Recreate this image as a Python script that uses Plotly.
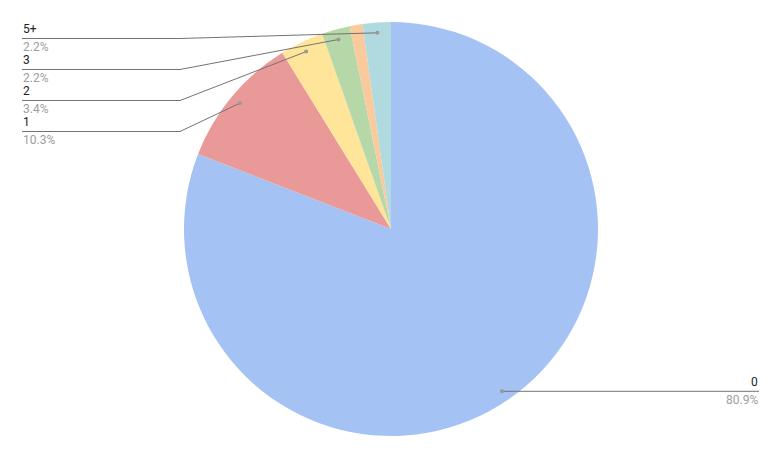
import math
import plotly.graph_objects as go

categories = ["0", "1", "2", "3", "4", "5+"]
values = [80.9, 10.3, 3.4, 2.2, 1.0, 2.2]
colors = ["#a4c2f4", "#ea9999", "#ffe599", "#b6d7a8", "#f9cb9c", "#b0dadf"]

W, H = 782, 459
MT, MB = 22, 23
PH = H - MT - MB
R = PH / 2.0
CX, CY = W / 2.0, MT + R

def px2paper(x, y):
    return x / W, (H - MB - y) / PH

fig = go.Figure(go.Pie(
    labels=categories, values=values, sort=False, direction="clockwise",
    rotation=0, marker=dict(colors=colors, line=dict(width=0)),
    textinfo="none", hoverinfo="label+percent", showlegend=False,
))

total = sum(values)
cum = 0.0
mids = {}
for c, v in zip(categories, values):
    a = (cum + v / 2) / total * 2 * math.pi
    mids[c] = (CX + 0.95 * R * math.sin(a), CY - 0.95 * R * math.cos(a))
    cum += v

shapes, annots = [], []
left_rows = ["5+", "3", "2", "1"]
row_y0, row_dy = 38.5, 31
LX, LBEND = 22, 180
line_col = "#737373"
lab_font = dict(family="Roboto, Arial", size=12, color="#222222")
pct_font = dict(family="Roboto, Arial", size=12, color="#9e9e9e")

def pct(c):
    return "%.1f%%" % (values[categories.index(c)] / total * 100)

def add_dot(x, y):
    xp, yp = px2paper(x, y)
    shapes.append(dict(type="circle", xref="paper", yref="paper",
                       xsizemode="pixel", ysizemode="pixel", xanchor=xp, yanchor=yp,
                       x0=-2, x1=2, y0=-2, y1=2,
                       fillcolor="#999999", line=dict(width=0)))

for i, c in enumerate(left_rows):
    ly = row_y0 + i * row_dy
    dx, dy = mids[c]
    pts = [px2paper(LX, ly), px2paper(LBEND, ly), px2paper(dx, dy)]
    path = "M %f,%f L %f,%f L %f,%f" % (pts[0] + pts[1] + pts[2])
    shapes.append(dict(type="path", xref="paper", yref="paper", path=path,
                       line=dict(color=line_col, width=1)))
    add_dot(dx, dy)
    xp, yp = px2paper(LX - 1, ly - 9)
    annots.append(dict(x=xp, y=yp, xref="paper", yref="paper", text=c, showarrow=False,
                       xanchor="left", yanchor="middle", font=lab_font))
    xp, yp = px2paper(LX - 1, ly + 8.5)
    annots.append(dict(x=xp, y=yp, xref="paper", yref="paper", text=pct(c), showarrow=False,
                       xanchor="left", yanchor="middle", font=pct_font))

# right label for "0"
dx, dy = mids["0"]
RX = 759
p1, p2 = px2paper(dx, dy), px2paper(RX, dy)
shapes.append(dict(type="line", xref="paper", yref="paper", x0=p1[0], y0=p1[1], x1=p2[0], y1=p2[1],
                   line=dict(color=line_col, width=1)))
add_dot(dx, dy)
xp, yp = px2paper(RX + 1, dy - 9)
annots.append(dict(x=xp, y=yp, xref="paper", yref="paper", text="0", showarrow=False,
                   xanchor="right", yanchor="middle", font=lab_font))
xp, yp = px2paper(RX + 1, dy + 8.5)
annots.append(dict(x=xp, y=yp, xref="paper", yref="paper", text=pct("0"), showarrow=False,
                   xanchor="right", yanchor="middle", font=pct_font))

fig.update_layout(
    width=W, height=H, margin=dict(l=0, r=0, t=MT, b=MB),
    paper_bgcolor="white", plot_bgcolor="white",
    shapes=shapes, annotations=annots,
)
fig.write_html("out.html", config={"displayModeBar": False},
               post_script="document.body.style.margin='0';document.body.style.padding='0';")
